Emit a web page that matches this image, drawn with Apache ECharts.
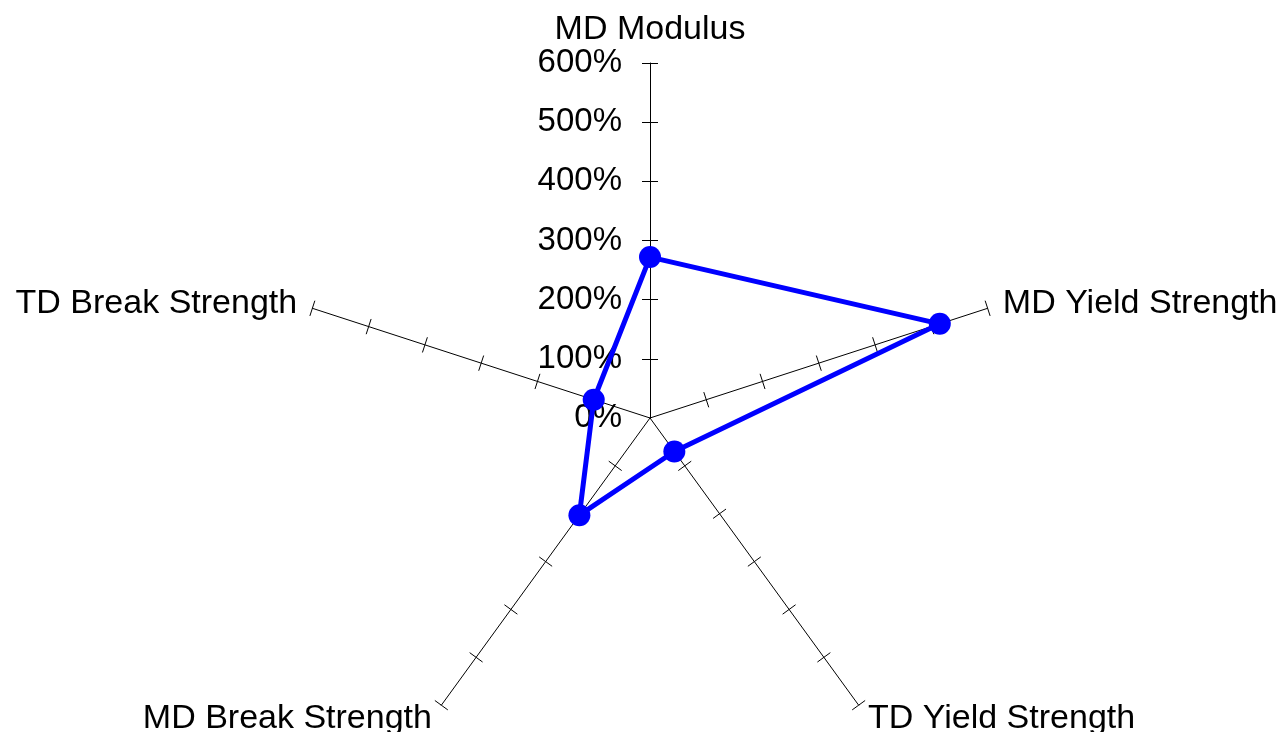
<!DOCTYPE html>
<html><head><meta charset="utf-8">
<script src="https://cdn.jsdelivr.net/npm/echarts@6/dist/echarts.min.js"></script>
<style>html,body{margin:0;padding:0;background:#fff}#c{width:1285px;height:732px}</style>
</head><body><div id="c"></div>
<script>
// categories listed clockwise starting from the top axis
const categories = ['MD Modulus', 'MD Yield Strength', 'TD Yield Strength', 'MD Break Strength', 'TD Break Strength'];
const values = [272, 515, 70, 203, 100];
const axisMin = 0, axisMax = 600, splitCount = 6;
const tickValues = [100, 200, 300, 400, 500, 600];

// ECharts radar places indicators counter-clockwise: keep first, reverse the rest
function ccw(arr) { return [arr[0]].concat(arr.slice(1).reverse()); }
const font = '"Liberation Sans", Arial, sans-serif';
function indicators(withLabel) {
  return ccw(categories).map((c, i) => {
    const o = { name: c, min: axisMin, max: axisMax };
    if (withLabel && i === 0) o.axisLabel = { show: true };
    return o;
  });
}
function radarBase(tickLen, main) {
  return {
    center: [650, 418], radius: 355, startAngle: 90, shape: 'polygon',
    splitNumber: splitCount,
    indicator: indicators(main),
    axisName: { show: main, color: '#000', fontSize: 34, fontFamily: font },
    nameGap: 16,
    axisLine: { show: main, lineStyle: { color: '#000', width: 1 } },
    axisTick: { show: true, length: tickLen, customValues: tickValues, lineStyle: { color: '#000', width: 1 } },
    axisLabel: { show: false, color: '#000', fontSize: 33, fontFamily: font, margin: 28, formatter: v => v + '%' },
    splitLine: { show: false }, splitArea: { show: false }
  };
}
const chart = echarts.init(document.getElementById('c'));
chart.setOption({
  animation: false,
  radar: [radarBase(8, true), radarBase(-8, false)],
  series: [{
    type: 'radar', radarIndex: 0,
    symbol: 'circle', symbolSize: 22,
    lineStyle: { color: '#0000ff', width: 5 },
    itemStyle: { color: '#0000ff' },
    data: [{ value: ccw(values) }]
  }]
});
</script></body></html>
